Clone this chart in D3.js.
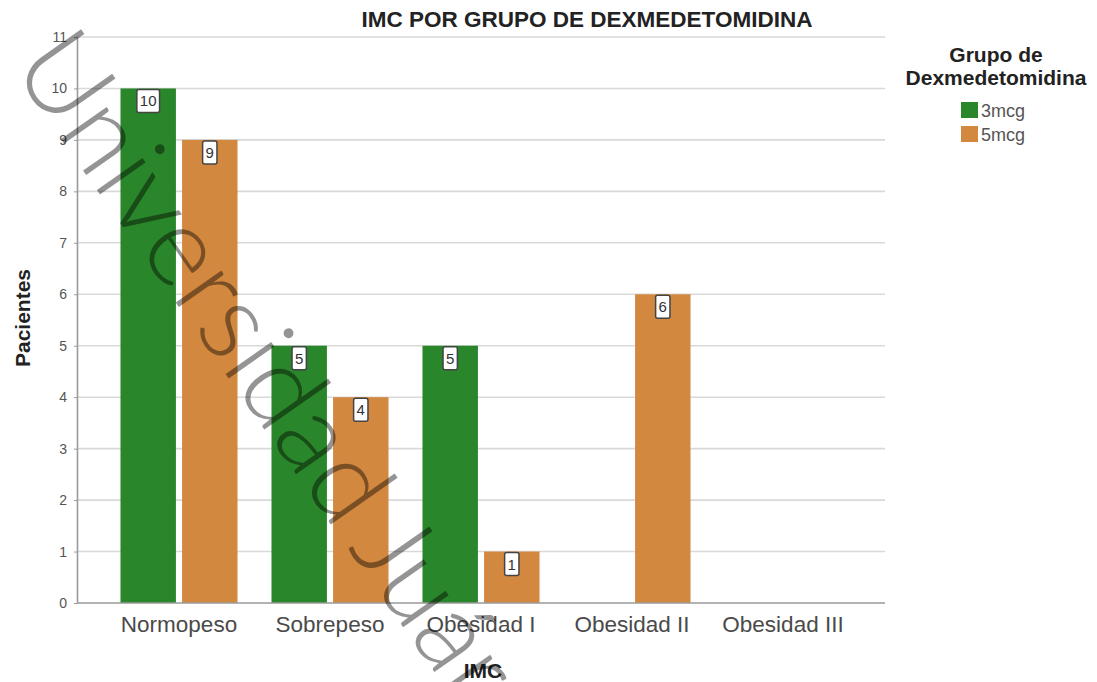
<!DOCTYPE html>
<html>
<head>
<meta charset="utf-8">
<script src="https://cdn.jsdelivr.net/npm/d3@7"></script>
<style>
  html, body { margin: 0; padding: 0; background: #fff; }
  svg { display: block; font-family: "Liberation Sans", Arial, sans-serif; }
</style>
</head>
<body>
<svg id="chart" width="1097" height="682"></svg>
<script>
// ---- data ----
const categories = ["Normopeso", "Sobrepeso", "Obesidad I", "Obesidad II", "Obesidad III"];
const seriesNames = ["3mcg", "5mcg"];
const values3mcg = [10, 5, 5, 0, 0];
const values5mcg = [9, 4, 1, 6, 0];
const yTicks = [0, 1, 2, 3, 4, 5, 6, 7, 8, 9, 10, 11];
const titleText = "IMC POR GRUPO DE DEXMEDETOMIDINA";
const xTitle = "IMC";
const yTitle = "Pacientes";
const legendTitle = ["Grupo de", "Dexmedetomidina"];
const watermarkWords = ["Universidad", "Juárez"];

const colors = { "3mcg": "#2a862a", "5mcg": "#d3883f" };
const seriesValues = { "3mcg": values3mcg, "5mcg": values5mcg };

const svg = d3.select("#chart");
const pLeft = 77, pRight = 885, pTop = 37, pBottom = 603;

const x0 = d3.scaleBand().domain(categories).range([pLeft, pRight])
  .paddingInner(0.225).paddingOuter(0.288);
const x1 = d3.scaleBand().domain(seriesNames).range([0, x0.bandwidth()]).paddingInner(0.1);
const y = d3.scaleLinear().domain([0, 11]).range([pBottom, pTop]);

// gridlines
svg.append("g").selectAll("line").data(yTicks.filter(d => d > 0)).join("line")
  .attr("x1", pLeft).attr("x2", pRight)
  .attr("y1", d => y(d)).attr("y2", d => y(d))
  .attr("stroke", "#d9d9d9").attr("stroke-width", 1.6);

// y axis
const yAxis = svg.append("g").attr("transform", `translate(${pLeft},0)`)
  .call(d3.axisLeft(y).tickValues(yTicks).tickSize(3).tickPadding(7).tickSizeOuter(0));
yAxis.select(".domain").attr("stroke", "#9a9a9a").attr("stroke-width", 1.6);
yAxis.selectAll(".tick line").attr("stroke", "#9a9a9a");
yAxis.selectAll("text").attr("fill", "#555").style("font-size", "14px");

// bars
const flat = [];
categories.forEach((c, i) => seriesNames.forEach(s => flat.push({ cat: c, s, v: seriesValues[s][i] })));
const bars = flat.filter(d => d.v > 0);

svg.append("g").selectAll("rect").data(bars).join("rect")
  .attr("x", d => x0(d.cat) + x1(d.s))
  .attr("y", d => y(d.v))
  .attr("width", x1.bandwidth())
  .attr("height", d => y(0) - y(d.v))
  .attr("fill", d => colors[d.s]);

// x axis
const xAxis = svg.append("g").attr("transform", `translate(0,${pBottom})`)
  .call(d3.axisBottom(x0).tickSize(0).tickPadding(13).tickSizeOuter(0));
xAxis.select(".domain").attr("d", `M${pLeft},0H${pRight}`).attr("stroke", "#9a9a9a").attr("stroke-width", 1.6);
xAxis.selectAll("text").attr("fill", "#4a4a4a").style("font-size", "22.5px");

// value labels
const lbl = svg.append("g").selectAll("g").data(bars).join("g")
  .attr("transform", d => `translate(${x0(d.cat) + x1(d.s) + x1.bandwidth() / 2},${y(d.v) + 1})`);
lbl.append("text")
  .attr("text-anchor", "middle").attr("y", 17)
  .attr("fill", "#333").style("font-size", "15px")
  .text(d => d.v);
lbl.each(function() {
  const g = d3.select(this);
  const w = g.select("text").node().getComputedTextLength() + 6;
  g.insert("rect", "text").attr("x", -w / 2).attr("y", 0).attr("width", w).attr("height", 23)
    .attr("rx", 2).attr("fill", "#fff").attr("stroke", "#444").attr("stroke-width", 1.5);
});

// title
svg.append("text").attr("x", 587).attr("y", 27).attr("text-anchor", "middle")
  .style("font-size", "22.5px").style("font-weight", "bold").attr("fill", "#222").text(titleText);

// axis titles
svg.append("text").attr("x", 483).attr("y", 678).attr("text-anchor", "middle")
  .style("font-size", "21px").style("font-weight", "bold").attr("fill", "#222").text(xTitle);
svg.append("text").attr("transform", "translate(30,318) rotate(-90)").attr("text-anchor", "middle")
  .style("font-size", "21px").style("font-weight", "bold").attr("fill", "#222").text(yTitle);

// legend
const lg = svg.append("g");
lg.selectAll("text.lt").data(legendTitle).join("text").attr("class", "lt")
  .attr("x", 996).attr("y", (d, i) => 62 + i * 23).attr("text-anchor", "middle")
  .style("font-size", "21px").style("font-weight", "bold").attr("fill", "#222").text(d => d);
const li = lg.selectAll("g.li").data(seriesNames).join("g").attr("class", "li")
  .attr("transform", (d, i) => `translate(961,${102 + i * 24})`);
li.append("rect").attr("width", 17).attr("height", 16).attr("fill", d => colors[d]);
li.append("text").attr("x", 20).attr("y", 15).style("font-size", "18px").attr("fill", "#555").text(d => d);

// watermark
const wm = svg.append("text").attr("transform", "translate(10,66) rotate(55)")
  .style("font-family", "Lato, 'Liberation Sans', sans-serif").style("font-weight", 300)
  .style("font-size", "112px").attr("fill", "#000").attr("fill-opacity", 0.42);
wm.append("tspan").text(watermarkWords[0]);
wm.append("tspan").attr("dx", -8).text(" " + watermarkWords[1]);
</script>
</body>
</html>
